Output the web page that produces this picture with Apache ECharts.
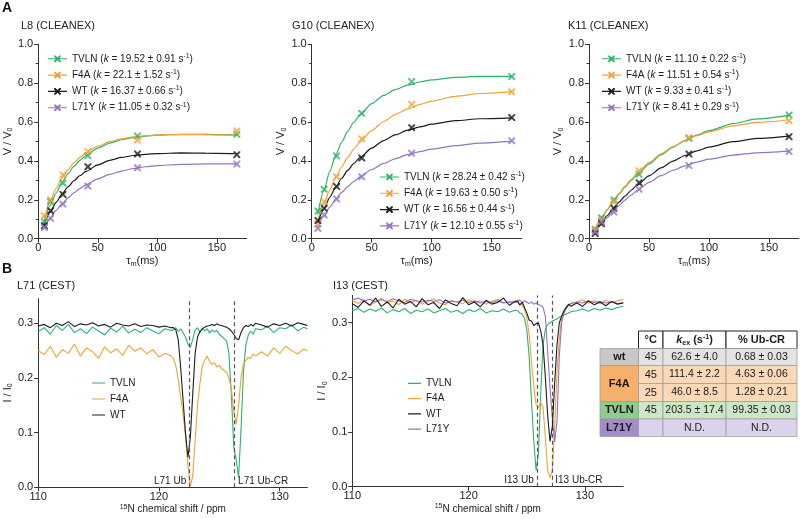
<!DOCTYPE html>
<html><head><meta charset="utf-8">
<script src="https://cdn.jsdelivr.net/npm/echarts@6/dist/echarts.min.js"></script>
<style>html,body{margin:0;padding:0;background:#fff}#c{width:800px;height:519px}</style>
</head><body><div id="c"></div>
<script>
// ---------------- DATA ----------------
const variants = ['TVLN', 'F4A', 'WT', 'L71Y'];
const tauM = [5.2, 10.4, 20.8, 41.7, 83.3, 166.7];
const fitT = [5, 10, 15, 20, 25, 30, 35, 40, 50, 60, 70, 80, 90, 100, 120, 140, 167];
const xTicksA = [0, 50, 100, 150];

// L8 (CLEANEX)
const L8_TVLN_pts = [0.087, 0.19, 0.286, 0.427, 0.528, 0.537];
const L8_F4A_pts  = [0.118, 0.20, 0.328, 0.448, 0.508, 0.554];
const L8_WT_pts   = [0.067, 0.144, 0.228, 0.37, 0.436, 0.432];
const L8_L71Y_pts = [0.057, 0.105, 0.178, 0.271, 0.365, 0.384];
const L8_TVLN_fit = [0.085, 0.17, 0.235, 0.29, 0.335, 0.372, 0.403, 0.428, 0.466, 0.492, 0.509, 0.52, 0.528, 0.533, 0.537, 0.537, 0.534];
const L8_F4A_fit  = [0.10, 0.19, 0.258, 0.312, 0.355, 0.39, 0.418, 0.441, 0.476, 0.499, 0.514, 0.524, 0.53, 0.534, 0.536, 0.535, 0.532];
const L8_WT_fit   = [0.07, 0.135, 0.187, 0.23, 0.267, 0.298, 0.324, 0.346, 0.38, 0.403, 0.418, 0.428, 0.434, 0.438, 0.441, 0.44, 0.437];
const L8_L71Y_fit = [0.055, 0.105, 0.146, 0.18, 0.21, 0.236, 0.258, 0.277, 0.308, 0.331, 0.348, 0.361, 0.37, 0.376, 0.382, 0.385, 0.385];
const L8_k = ['19.52 ± 0.91', '22.1 ± 1.52', '16.37 ± 0.66', '11.05 ± 0.32'];

// G10 (CLEANEX)
const G10_TVLN_pts = [0.142, 0.254, 0.425, 0.645, 0.808, 0.834];
const G10_F4A_pts  = [0.075, 0.19, 0.319, 0.513, 0.691, 0.756];
const G10_WT_pts   = [0.093, 0.156, 0.268, 0.415, 0.571, 0.623];
const G10_L71Y_pts = [0.053, 0.122, 0.204, 0.319, 0.439, 0.504];
const G10_TVLN_fit = [0.125, 0.245, 0.345, 0.43, 0.497, 0.552, 0.598, 0.636, 0.695, 0.737, 0.768, 0.79, 0.806, 0.817, 0.83, 0.835, 0.835];
const G10_F4A_fit  = [0.09, 0.175, 0.25, 0.315, 0.37, 0.418, 0.46, 0.496, 0.556, 0.603, 0.64, 0.668, 0.69, 0.708, 0.732, 0.747, 0.757];
const G10_WT_fit   = [0.08, 0.15, 0.213, 0.265, 0.311, 0.351, 0.386, 0.416, 0.466, 0.505, 0.535, 0.558, 0.575, 0.589, 0.607, 0.617, 0.622];
const G10_L71Y_fit = [0.06, 0.115, 0.162, 0.203, 0.238, 0.268, 0.294, 0.317, 0.356, 0.387, 0.412, 0.432, 0.448, 0.461, 0.479, 0.492, 0.502];
const G10_k = ['28.24 ± 0.42', '19.63 ± 0.50', '16.56 ± 0.44', '12.10 ± 0.55'];

// K11 (CLEANEX)
const K11_TVLN_pts = [0.048, 0.108, 0.199, 0.331, 0.515, 0.636];
const K11_F4A_pts  = [0.045, 0.096, 0.19, 0.35, 0.521, 0.607];
const K11_WT_pts   = [0.027, 0.077, 0.156, 0.288, 0.436, 0.525];
const K11_L71Y_pts = [0.036, 0.087, 0.137, 0.254, 0.376, 0.448];
const K11_TVLN_fit = [0.05, 0.10, 0.147, 0.19, 0.229, 0.265, 0.298, 0.329, 0.384, 0.431, 0.471, 0.505, 0.533, 0.556, 0.592, 0.616, 0.636];
const K11_F4A_fit  = [0.05, 0.10, 0.148, 0.192, 0.233, 0.27, 0.304, 0.336, 0.391, 0.437, 0.474, 0.505, 0.53, 0.55, 0.58, 0.598, 0.612];
const K11_WT_fit   = [0.04, 0.08, 0.118, 0.154, 0.188, 0.219, 0.248, 0.275, 0.323, 0.364, 0.399, 0.428, 0.452, 0.471, 0.499, 0.516, 0.528];
const K11_L71Y_fit = [0.035, 0.073, 0.108, 0.14, 0.17, 0.198, 0.224, 0.248, 0.29, 0.324, 0.352, 0.375, 0.394, 0.409, 0.43, 0.442, 0.45];
const K11_k = ['11.10 ± 0.22', '11.51 ± 0.54', '9.33 ± 0.41', '8.41 ± 0.29'];

// L71 (CEST)
const L71_ppm = [110,110.5,111,111.5,112,112.5,113,113.5,114,114.5,115,115.5,116,116.5,117,117.5,118,118.5,119,119.5,120,120.5,121,
  121.2,121.4,121.6,121.8,122.0,122.2,122.4,122.6,122.8,123.0,123.2,123.4,123.6,123.8,124.0,124.2,124.4,124.6,124.8,125.0,125.2,125.4,125.6,125.8,126.0,126.2,126.4,126.6,126.8,127.0,127.2,127.4,127.6,127.8,128.0,
  128.5,129,129.5,130,130.5,131,131.5,132,132.3];
const L71_TVLN = [0.285,0.292,0.280,0.296,0.287,0.298,0.283,0.290,0.281,0.293,0.286,0.279,0.291,0.284,0.295,0.282,0.289,0.283,0.292,0.286,0.281,0.290,0.287,
  0.288,0.292,0.285,0.29,0.283,0.275,0.262,0.256,0.27,0.288,0.292,0.283,0.291,0.286,0.29,0.282,0.288,0.284,0.287,0.28,0.276,0.272,0.268,0.245,0.17,0.075,0.05,0.018,0.105,0.21,0.26,0.278,0.286,0.28,0.29,
  0.288,0.295,0.283,0.292,0.29,0.297,0.286,0.293,0.29];
const L71_F4A = [0.25,0.243,0.258,0.238,0.252,0.245,0.262,0.24,0.255,0.248,0.236,0.257,0.246,0.253,0.241,0.26,0.249,0.255,0.244,0.252,0.238,0.245,0.24,
  0.236,0.222,0.198,0.165,0.135,0.095,0.04,0.002,0.02,0.085,0.15,0.19,0.222,0.232,0.24,0.23,0.225,0.228,0.22,0.223,0.217,0.214,0.21,0.20,0.18,0.14,0.115,0.15,0.20,0.225,0.232,0.238,0.235,0.244,0.24,
  0.248,0.24,0.255,0.245,0.258,0.25,0.244,0.253,0.25];
const L71_WT = [0.295,0.298,0.292,0.300,0.296,0.303,0.294,0.299,0.297,0.301,0.295,0.298,0.293,0.300,0.297,0.295,0.299,0.294,0.297,0.296,0.293,0.295,0.292,
  0.292,0.288,0.27,0.22,0.16,0.10,0.055,0.09,0.17,0.245,0.275,0.285,0.29,0.293,0.295,0.296,0.298,0.296,0.299,0.297,0.296,0.294,0.293,0.29,0.286,0.28,0.272,0.27,0.283,0.292,0.296,0.294,0.298,0.295,0.30,
  0.297,0.293,0.299,0.296,0.300,0.295,0.301,0.298,0.296];
const L71_marks = [122.55, 126.27];
const L71_markLabels = ['L71 Ub', 'L71 Ub-CR'];

// I13 (CEST)
const I13_ppm = [110,110.5,111,111.5,112,112.5,113,113.5,114,114.5,115,115.5,116,116.5,117,117.5,118,118.5,119,119.5,120,120.5,121,121.5,122,122.5,123,123.5,124,
  124.2,124.4,124.6,124.8,125.0,125.2,125.4,125.6,125.8,126.0,126.2,126.4,126.6,126.8,127.0,127.2,127.4,127.6,127.8,128.0,128.2,128.4,128.6,128.8,
  129.3,129.8,130.3,130.8,131.3,131.8,132.3,132.8,133.3];
const I13_TVLN = [0.322,0.326,0.319,0.325,0.321,0.327,0.318,0.324,0.32,0.326,0.317,0.323,0.32,0.325,0.318,0.322,0.326,0.319,0.323,0.317,0.324,0.32,0.326,0.318,0.322,0.32,0.325,0.319,0.323,
  0.322,0.318,0.316,0.308,0.288,0.24,0.16,0.085,0.03,0.06,0.17,0.26,0.288,0.297,0.30,0.303,0.305,0.307,0.31,0.312,0.314,0.316,0.318,0.32,
  0.322,0.325,0.321,0.326,0.323,0.327,0.324,0.328,0.33];
const I13_F4A = [0.34,0.335,0.342,0.332,0.338,0.345,0.336,0.34,0.333,0.343,0.337,0.341,0.334,0.339,0.344,0.336,0.333,0.34,0.338,0.335,0.342,0.337,0.34,0.334,0.339,0.343,0.336,0.338,0.34,
  0.338,0.335,0.333,0.325,0.31,0.28,0.23,0.185,0.15,0.145,0.155,0.145,0.09,0.03,0.016,0.03,0.11,0.21,0.27,0.31,0.322,0.328,0.332,0.336,
  0.338,0.342,0.336,0.34,0.335,0.341,0.337,0.34,0.343];
const I13_WT = [0.335,0.328,0.340,0.332,0.345,0.330,0.338,0.327,0.343,0.334,0.339,0.329,0.344,0.333,0.337,0.326,0.342,0.335,0.331,0.346,0.333,0.338,0.329,0.341,0.334,0.337,0.345,0.332,0.339,
  0.34,0.332,0.338,0.328,0.318,0.305,0.303,0.295,0.298,0.30,0.285,0.26,0.20,0.13,0.083,0.11,0.19,0.26,0.30,0.312,0.322,0.328,0.334,0.33,
  0.336,0.33,0.34,0.333,0.338,0.331,0.339,0.334,0.336];
const I13_L71Y = [0.342,0.345,0.34,0.343,0.338,0.342,0.339,0.344,0.34,0.337,0.343,0.34,0.338,0.341,0.339,0.342,0.336,0.34,0.338,0.341,0.337,0.34,0.336,0.339,0.337,0.34,0.336,0.338,0.337,
  0.338,0.342,0.336,0.34,0.338,0.335,0.338,0.334,0.336,0.333,0.332,0.328,0.312,0.245,0.18,0.125,0.082,0.12,0.24,0.30,0.318,0.326,0.332,0.335,
  0.338,0.336,0.34,0.337,0.339,0.336,0.338,0.335,0.337];
const I13_marks = [125.9, 127.15];
const I13_markLabels = ['I13 Ub', 'I13 Ub-CR'];
const cestYTicks = [0, 0.1, 0.2, 0.3];
const cestXTicks = [110, 120, 130];

// Table
const tableGroups = ['wt', 'F4A', 'F4A', 'TVLN', 'L71Y'];
const tableTemp = ['45', '45', '25', '45', ''];
const tableKex = ['62.6 ± 4.0', '111.4 ± 2.2', '46.0 ± 8.5', '203.5 ± 17.4', 'N.D.'];
const tablePct = ['0.68 ± 0.03', '4.63 ± 0.06', '1.28 ± 0.21', '99.35 ± 0.03', 'N.D.'];

// ---------------- STYLE ----------------
const FONT = 'Liberation Sans, Arial, Helvetica, sans-serif';
const colors = { TVLN: '#2bb36a', F4A: '#f2a236', WT: '#1c1c1c', L71Y: '#9274c2' };
const xSym = 'path://M0,0L2,0L5,3L8,0L10,0L10,2L7,5L10,8L10,10L8,10L5,7L2,10L0,10L0,8L3,5L0,2Z';
const legIconX = 'path://M0,3.4H20V4.6H0Z M6.5,0.5L7.9,0.5L10,2.6L12.1,0.5L13.5,0.5L13.5,1.9L11.4,4L13.5,6.1L13.5,7.5L12.1,7.5L10,5.4L7.9,7.5L6.5,7.5L6.5,6.1L8.6,4L6.5,1.9Z';
const legIconLine = 'path://M0,3.4H20V4.6H0Z M0,0H0.01V0.01H0Z M19.99,7.99H20V8H19.99Z';
const richCommon = {
  sub: { fontSize: 7, lineHeight: 6, padding: [6, 0, 0, 0], fontFamily: FONT },
  sup: { fontSize: 7, lineHeight: 6, padding: [0, 0, 6, 0], fontFamily: FONT },
  i: { fontStyle: 'italic', fontFamily: FONT }
};

const chart = echarts.init(document.getElementById('c'));

const grids = [
  { left: 36.7, top: 44.3, width: 210, height: 194.4 },
  { left: 311.7, top: 44.3, width: 210, height: 194.4 },
  { left: 589, top: 44.3, width: 210, height: 194.4 },
  { left: 36, top: 298.7, width: 271.4, height: 188.6 },
  { left: 352.3, top: 295.4, width: 271, height: 191.3 }
];

function axisBase(gi) {
  return {
    type: 'value', gridIndex: gi, nameLocation: 'middle',
    nameTextStyle: { fontSize: 11, color: '#222', fontFamily: FONT, rich: richCommon },
    axisLine: { show: true, onZero: false, lineStyle: { color: '#333', width: 1 } },
    axisTick: { show: true, length: 4, lineStyle: { color: '#333' } },
    axisLabel: { fontSize: 11, color: '#222', fontFamily: FONT, margin: 5 },
    splitLine: { show: false }
  };
}
const xAxes = [], yAxes = [];
[0, 1, 2].forEach(gi => {
  const x = axisBase(gi);
  Object.assign(x, { min: 0, max: 175, name: 'τ{sub|m}(ms)', nameGap: 17 });
  x.axisTick.customValues = xTicksA;
  x.axisLabel.customValues = xTicksA;
  x.axisLabel.margin = 4;
  xAxes.push(x);
  const y = axisBase(gi);
  Object.assign(y, { min: 0, max: 1, interval: 0.2, name: 'V / V{sub|0}', nameGap: 23 });
  y.axisLabel.formatter = v => v.toFixed(1);
  y.minorTick = { show: true, splitNumber: 2, length: 2.5, lineStyle: { color: '#333' } };
  yAxes.push(y);
});
[[3, 132.3, 0.345, 25], [4, 133.3, 0.35, 22]].forEach(([gi, xmax, ymax, ygap]) => {
  const x = axisBase(gi);
  Object.assign(x, { min: 110, max: xmax, name: '{sup|15}N chemical shift / ppm', nameGap: 14 });
  x.nameTextStyle.fontSize = 10;
  x.axisTick.customValues = cestXTicks;
  x.axisLabel.customValues = cestXTicks;
  x.axisLabel.margin = 4;
  xAxes.push(x);
  const y = axisBase(gi);
  Object.assign(y, { min: 0, max: ymax, name: 'I / I{sub|0}', nameGap: ygap });
  y.axisTick.customValues = cestYTicks;
  y.axisLabel.customValues = cestYTicks;
  y.axisLabel.formatter = v => v.toFixed(1);
  yAxes.push(y);
});

const series = [];
function addCleanex(gi, prefix, pts, fits) {
  variants.forEach((v, i) => {
    series.push({
      name: prefix + ' ' + v, type: 'line', xAxisIndex: gi, yAxisIndex: gi,
      data: fitT.map((t, j) => [t, fits[i][j]]), smooth: 0.25, smoothMonotone: 'x',
      symbol: 'none', lineStyle: { color: colors[v], width: 1.2 }, itemStyle: { color: colors[v] },
      z: 2, silent: true
    });
    series.push({
      name: prefix + ' ' + v + ' data', type: 'scatter', xAxisIndex: gi, yAxisIndex: gi,
      data: tauM.map((t, j) => [t, pts[i][j]]), symbol: xSym, symbolSize: 7,
      itemStyle: { color: colors[v] }, z: 3, silent: true
    });
  });
}
addCleanex(0, 'L8', [L8_TVLN_pts, L8_F4A_pts, L8_WT_pts, L8_L71Y_pts], [L8_TVLN_fit, L8_F4A_fit, L8_WT_fit, L8_L71Y_fit]);
addCleanex(1, 'G10', [G10_TVLN_pts, G10_F4A_pts, G10_WT_pts, G10_L71Y_pts], [G10_TVLN_fit, G10_F4A_fit, G10_WT_fit, G10_L71Y_fit]);
addCleanex(2, 'K11', [K11_TVLN_pts, K11_F4A_pts, K11_WT_pts, K11_L71Y_pts], [K11_TVLN_fit, K11_F4A_fit, K11_WT_fit, K11_L71Y_fit]);

function addCest(gi, prefix, ppm, list, marks, markLabels) {
  list.forEach(([v, ys], idx) => {
    const s = {
      name: prefix + ' ' + v, type: 'line', xAxisIndex: gi, yAxisIndex: gi,
      data: ppm.map((x, j) => [x, ys[j]]), symbol: 'none',
      lineStyle: { color: colors[v], width: 1.1 }, itemStyle: { color: colors[v] }, z: 2 + idx, silent: true
    };
    if (idx === 0) {
      s.markLine = {
        silent: true, symbol: ['none', 'none'], label: { show: false },
        lineStyle: { type: [4, 3], color: '#555', width: 1.2 },
        data: marks.map(m => ({ xAxis: m }))
      };
      s.markPoint = {
        silent: true, symbol: 'rect', symbolSize: 1, itemStyle: { color: 'rgba(0,0,0,0)' },
        data: marks.map((m, k) => ({
          coord: [m, 0.0115],
          label: { show: true, formatter: markLabels[k], position: k === 0 ? 'left' : 'right', distance: 3,
            fontSize: 10, color: '#222', fontFamily: FONT }
        }))
      };
    }
    series.push(s);
  });
}
addCest(3, 'L71', L71_ppm, [['TVLN', L71_TVLN], ['F4A', L71_F4A], ['WT', L71_WT]], L71_marks, L71_markLabels);
addCest(4, 'I13', I13_ppm, [['TVLN', I13_TVLN], ['F4A', I13_F4A], ['L71Y', I13_L71Y], ['WT', I13_WT]], I13_marks, I13_markLabels);

function cleanexLegend(prefix, kvals, left, top, gap) {
  return {
    orient: 'vertical', left, top, itemWidth: 19, itemHeight: 7, itemGap: gap, padding: 0, selectedMode: false,
    data: variants.map(v => ({ name: prefix + ' ' + v, icon: legIconX, itemStyle: { color: colors[v] } })),
    formatter: name => {
      const v = name.split(' ')[1]; const i = variants.indexOf(v);
      return v + ' ({i|k} = ' + kvals[i] + ' s{sup|-1})';
    },
    textStyle: { fontSize: 10, color: '#222', fontFamily: FONT, lineHeight: 12, rich: richCommon }
  };
}
function cestLegend(prefix, names, left, top, gap) {
  return {
    orient: 'vertical', left, top, itemWidth: 13, itemHeight: 8, itemGap: gap, padding: 0, selectedMode: false,
    symbolKeepAspect: false,
    data: names.map(v => ({ name: prefix + ' ' + v, icon: legIconLine, itemStyle: { color: colors[v] } })),
    formatter: name => name.split(' ')[1],
    textStyle: { fontSize: 10, color: '#222', fontFamily: FONT, lineHeight: 12 }
  };
}

// table graphic
const cx = [600, 638.5, 663, 726, 797];
const ry = [331, 348.5, 365.5, 383.5, 401.5, 419, 436.5];
const labelFill = { wt: '#c8c8c8', F4A: '#f5b06c', TVLN: '#8fca8e', L71Y: '#a38dc9' };
const dataFill = { wt: '#e3e3e3', F4A: '#fbd8b6', TVLN: '#cce6c7', L71Y: '#dbd2ec' };
const tbl = [];
function rect(x0, y0, x1, y1, fill, stroke, lw) {
  tbl.push({ type: 'rect', shape: { x: x0, y: y0, width: x1 - x0, height: y1 - y0 },
    style: { fill, stroke, lineWidth: lw }, silent: true });
}
function txt(x, y, text, opt) {
  tbl.push({ type: 'text', x, y, silent: true, style: Object.assign({
    text, fill: '#1a1a1a', fontSize: 10.5, fontFamily: FONT, align: 'center', verticalAlign: 'middle'
  }, opt || {}) });
}
rect(cx[1], ry[0], cx[2], ry[1], '#fff', '#222', 1);
rect(cx[2], ry[0], cx[3], ry[1], '#fff', '#222', 1);
rect(cx[3], ry[0], cx[4], ry[1], '#fff', '#222', 1);
txt((cx[1] + cx[2]) / 2, (ry[0] + ry[1]) / 2, '°C', { fontWeight: 'bold', fontSize: 11 });
txt((cx[2] + cx[3]) / 2, (ry[0] + ry[1]) / 2, '{bi|k}{bs|ex}{b| (s}{bp|-1}{b|)}', {
  rich: { b: { fontWeight: 'bold', fontSize: 11, fontFamily: FONT },
    bi: { fontWeight: 'bold', fontStyle: 'italic', fontSize: 11, fontFamily: FONT },
    bs: { fontWeight: 'bold', fontSize: 7, lineHeight: 6, padding: [6, 0, 0, 0], fontFamily: FONT },
    bp: { fontWeight: 'bold', fontSize: 7, lineHeight: 6, padding: [0, 0, 6, 0], fontFamily: FONT } } });
txt((cx[3] + cx[4]) / 2, (ry[0] + ry[1]) / 2, '% Ub-CR', { fontWeight: 'bold', fontSize: 11 });
const rowTop = [ry[1], ry[2], ry[3], ry[4], ry[5]];
const rowBot = [ry[2], ry[3], ry[4], ry[5], ry[6]];
tableGroups.forEach((g, r) => {
  for (let c = 1; c < 4; c++) rect(cx[c], rowTop[r], cx[c + 1], rowBot[r], dataFill[g], '#a0a0a0', 0.8);
  const yc = (rowTop[r] + rowBot[r]) / 2;
  txt((cx[1] + cx[2]) / 2, yc, tableTemp[r], { fontSize: 11 });
  txt((cx[2] + cx[3]) / 2, yc, tableKex[r]);
  txt((cx[3] + cx[4]) / 2, yc, tablePct[r]);
});
[...new Set(tableGroups)].forEach(g => {
  const first = tableGroups.indexOf(g), last = tableGroups.lastIndexOf(g);
  rect(cx[0], rowTop[first], cx[1], rowBot[last], labelFill[g], '#a0a0a0', 0.8);
  txt((cx[0] + cx[1]) / 2, (rowTop[first] + rowBot[last]) / 2, g, { fontWeight: 'bold', fontSize: 11 });
});

const titleStyle = { fontSize: 11, fontWeight: 'normal', color: '#222', fontFamily: FONT };
chart.setOption({
  animation: false,
  backgroundColor: '#fff',
  textStyle: { fontFamily: FONT },
  grid: grids,
  xAxis: xAxes,
  yAxis: yAxes,
  title: [
    { text: 'L8 (CLEANEX)', left: 21, top: 20.5, padding: 0, textStyle: titleStyle },
    { text: 'G10 (CLEANEX)', left: 292, top: 20.5, padding: 0, textStyle: titleStyle },
    { text: 'K11 (CLEANEX)', left: 568, top: 20.5, padding: 0, textStyle: titleStyle },
    { text: 'L71 (CEST)', left: 17, top: 280.5, padding: 0, textStyle: titleStyle },
    { text: 'I13 (CEST)', left: 333, top: 280.5, padding: 0, textStyle: titleStyle }
  ],
  legend: [
    cleanexLegend('L8', L8_k, 48, 52.3, 3.3),
    cleanexLegend('G10', G10_k, 380, 170.5, 3.3),
    cleanexLegend('K11', K11_k, 602, 52.3, 3.3),
    cestLegend('L71', ['TVLN', 'F4A', 'WT'], 92, 377, 4),
    cestLegend('I13', ['TVLN', 'F4A', 'WT', 'L71Y'], 408, 377.3, 3.3)
  ],
  graphic: [
    { type: 'text', left: 2, top: 1, silent: true, style: { text: 'A', fontSize: 14, fontWeight: 'bold', fill: '#111', fontFamily: FONT } },
    { type: 'text', left: 2, top: 262, silent: true, style: { text: 'B', fontSize: 14, fontWeight: 'bold', fill: '#111', fontFamily: FONT } },
    { type: 'group', silent: true, children: tbl }
  ],
  series
});
</script></body></html>
